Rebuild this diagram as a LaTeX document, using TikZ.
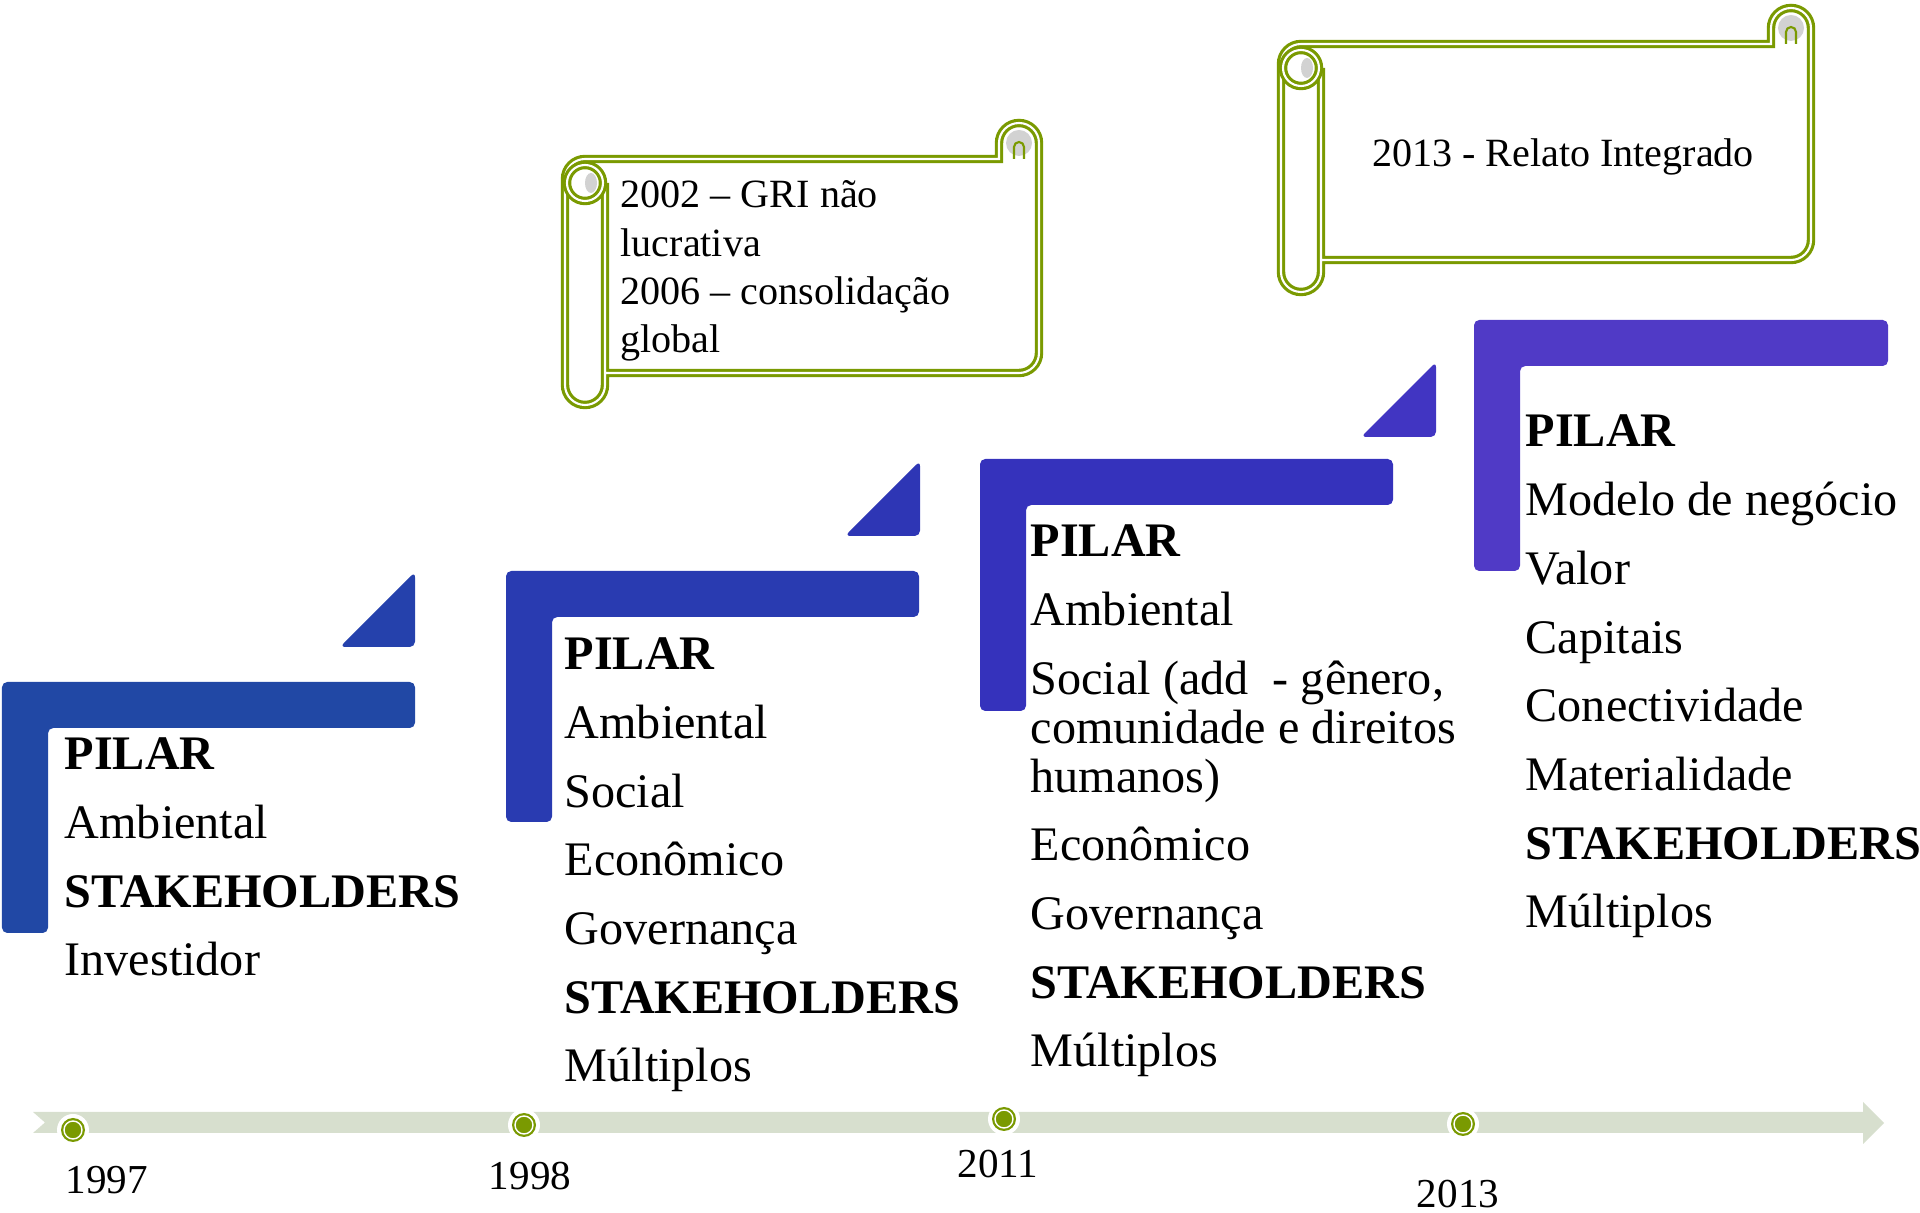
\documentclass[tikz,border=0pt]{standalone}
\usepackage{fontspec}
\setmainfont{Liberation Serif}

\definecolor{stepA}{HTML}{2148A5}
\definecolor{triA}{HTML}{2541AC}
\definecolor{stepB}{HTML}{293BB1}
\definecolor{triB}{HTML}{2E36B5}
\definecolor{stepC}{HTML}{3532BC}
\definecolor{triC}{HTML}{4135C2}
\definecolor{stepD}{HTML}{503AC6}
\definecolor{scrollgreen}{HTML}{7A9A01}
\definecolor{rollgrey}{HTML}{D2D2D2}
\definecolor{timebar}{HTML}{D7DFCE}

\begin{document}
\begin{tikzpicture}[x=0.01cm, y=-0.01cm,
    pilar/.style={anchor=base west, align=left, inner sep=0pt,
      font=\fontsize{13.7}{13.94}\selectfont},
    scrolltext/.style={inner sep=0pt, font=\fontsize{11.4}{13.75}\selectfont},
    year/.style={anchor=base, inner sep=0pt, font=\fontsize{11.7}{14}\selectfont},
    scrollline/.style={draw=scrollgreen, line width=0.9pt, double=white, double distance=0.6pt}]
    \useasboundingbox (0,0) rectangle (1920,1213);

    % Timeline arrow
    \fill[timebar] (33,1112) -- (1863,1112) -- (1863,1102) -- (1884,1123) -- (1863,1144)
        -- (1863,1133) -- (33,1133) -- (45,1122.5) -- cycle;

    % Milestones on the timeline
    \foreach \x/\y in {73/1130, 524/1125, 1004/1119, 1463/1124} {
        \fill[white] (\x,\y) circle (16);
        \fill[scrollgreen] (\x,\y) circle (12);
        \draw[white, line width=0.4pt] (\x,\y) circle (9);
    }
    \node[year] (y1997) at (107,1194) {1997};
    \node[year] (y1998) at (530,1190) {1998};
    \node[year] (y2011) at (998,1178) {2011};
    \node[year] (y2013) at (1458,1208) {2013};

    % Steps
    \foreach \xa/\xb/\ya/\yc/\col in {2/415/682/933/stepA, 506/919/571/822/stepB,
                                      980/1393/459/711/stepC, 1474/1888/320/571/stepD}
        \fill[\col, rounded corners=1.5pt] (\xa,\ya) -- (\xb,\ya) -- (\xb,\ya+46)
            -- (\xa+46,\ya+46) -- (\xa+46,\yc) -- (\xa,\yc) -- cycle;

    % Small triangles above the steps
    \foreach \xb/\yb/\col in {415/647/triA, 920/536/triB, 1436/437/triC}
        \fill[\col, rounded corners=1.5pt] (\xb-75,\yb) -- (\xb,\yb-75) -- (\xb,\yb) -- cycle;

    % Step texts (placed by the baseline of their last line)
    \node[pilar] (pilar1997) at (64,976)
        {\textbf{PILAR}\\[5.6pt]Ambiental\\[5.6pt]\textbf{STAKEHOLDERS}\\[5.6pt]Investidor};
    \node[pilar] (pilar1998) at (564,1082)
        {\textbf{PILAR}\\[5.6pt]Ambiental\\[5.6pt]Social\\[5.6pt]Econômico\\[5.6pt]Governança\\[5.6pt]%
         \textbf{STAKEHOLDERS}\\[5.6pt]Múltiplos};
    \node[pilar] (pilar2011) at (1030,1067)
        {\textbf{PILAR}\\[5.6pt]Ambiental\\[5.6pt]Social (add~ - gênero,\\comunidade e direitos\\humanos)\\[5.6pt]%
         Econômico\\[5.6pt]Governança\\[5.6pt]\textbf{STAKEHOLDERS}\\[5.6pt]Múltiplos};
    \node[pilar] (pilar2013) at (1525,928)
        {\textbf{PILAR}\\[5.6pt]Modelo de negócio\\[5.6pt]Valor\\[5.6pt]Capitais\\[5.6pt]Conectividade\\[5.6pt]%
         Materialidade\\[5.6pt]\textbf{STAKEHOLDERS}\\[5.6pt]Múltiplos};

    % Scrolls
    \foreach \xl/\xr/\yt/\yb in {565/1039/159/373, 1281/1811/44/260} {
        \fill[white] (\xl+20,\yt) rectangle (\xr,\yb);
        \draw[scrollline] (\xl+40,\yb) -- (\xr-20,\yb) arc[start angle=90, end angle=0, radius=20]
            -- (\xr,\yt-16) arc[start angle=0, end angle=-180, radius=20] -- (\xr-40,\yt)
            -- (\xl+20,\yt) arc[start angle=-90, end angle=-180, radius=20]
            -- (\xl,\yb+12) arc[start angle=-180, end angle=-360, radius=20] -- (\xl+40,\yt+24);
        % rolled ends
        \draw[scrollline, fill=white] (\xl+20,\yt+24) circle (18);
        \fill[rollgrey] (\xl+26,\yt+24) ellipse (6 and 10);
        \fill[rollgrey] (\xr-20,\yt-16) circle (13);
        \draw[scrollgreen, line width=0.6pt] (\xr-25,\yt) -- (\xr-25,\yt-12)
            arc[start angle=-180, end angle=0, radius=5] -- (\xr-15,\yt);
    }
    \node[scrolltext, anchor=base west, align=left] (gri) at (620,353)
        {2002 – GRI não\\lucrativa\\2006 – consolidação\\global};
    \node[scrolltext, anchor=base] (relato) at (1563,167) {2013 - Relato Integrado};
\end{tikzpicture}
\end{document}
